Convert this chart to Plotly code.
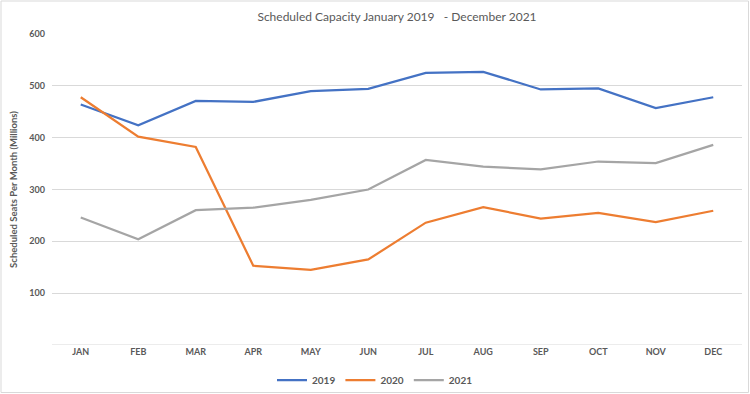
import plotly.graph_objects as go

months = ["JAN", "FEB", "MAR", "APR", "MAY", "JUN", "JUL", "AUG", "SEP", "OCT", "NOV", "DEC"]
s2019 = [464, 424, 471, 469, 490, 494, 525, 527, 493, 495, 457, 478]
s2020 = [478, 402, 382, 153, 145, 165, 236, 266, 244, 255, 237, 259]
s2021 = [246, 204, 260, 265, 280, 300, 357, 344, 339, 354, 351, 386]
ytick_vals = [0, 100, 200, 300, 400, 500, 600]
ytick_text = ["", "100", "200", "300", "400", "500", "600"]

FONT = "Lato, Open Sans, sans-serif"
GRAY = "#595959"

fig = go.Figure()
for name, vals, col in [("2019", s2019, "#4472C4"), ("2020", s2020, "#ED7D31"), ("2021", s2021, "#A5A5A5")]:
    fig.add_trace(go.Scatter(x=months, y=vals, mode="lines", name=name,
                             line=dict(color=col, width=2.25)))

fig.update_layout(
    width=750, height=394,
    paper_bgcolor="white", plot_bgcolor="white",
    margin=dict(l=52, r=8, t=34, b=49, autoexpand=False),
    title=dict(text="Scheduled Capacity January 2019   - December 2021", x=0.5, xanchor="center",
               xref="paper", y=0.957, yanchor="middle", font=dict(family=FONT, size=12, color=GRAY)),
    font=dict(family=FONT, color=GRAY),
    showlegend=True,
    legend=dict(orientation="h", xref="container", x=0.5, xanchor="center", y=-0.066, yanchor="top",
                bgcolor="rgba(0,0,0,0)",
                font=dict(size=10, color=GRAY, weight="bold"), itemwidth=30, tracegroupgap=0),
    xaxis=dict(range=[-0.5, 11.5], showgrid=False, showline=False, ticks="", automargin=False,
               tickfont=dict(size=9, color=GRAY, weight="bold"), fixedrange=True),
    yaxis=dict(range=[0, 600], tickvals=ytick_vals, ticktext=ytick_text, showgrid=True,
               gridcolor="#D9D9D9", gridwidth=1, zeroline=False, showline=False, automargin=False,
               tickfont=dict(size=9, color=GRAY, weight="bold"), ticklabelstandoff=6,
               title=dict(text="Scheduled Seats Per Month (Millions)",
                          font=dict(size=9.5, color=GRAY, weight="bold"), standoff=10)),
)
fig.add_shape(type="line", xref="paper", yref="y", x0=0, x1=1, y0=0, y1=0,
              line=dict(color="#D9D9D9", width=1), layer="below")
fig.add_shape(type="rect", xref="paper", yref="paper", x0=-51/690, x1=1+6.5/690,
              y0=-47.5/311, y1=1+33/311, line=dict(color="#D9D9D9", width=1), layer="below")
fig.write_html("out.html", config={"displayModeBar": False},
               post_script="document.body.style.margin='0';")
